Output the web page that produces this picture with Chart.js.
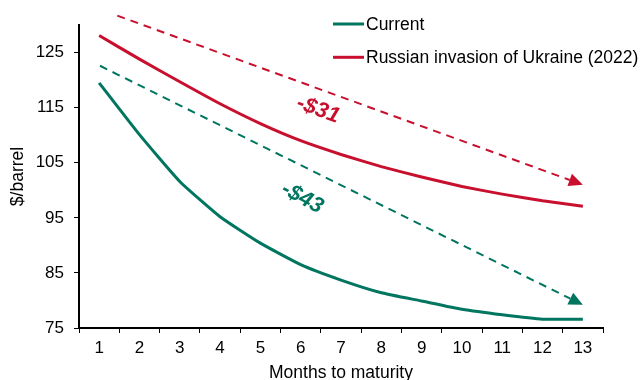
<!DOCTYPE html>
<html>
<head>
<meta charset="utf-8">
<script src="https://cdn.jsdelivr.net/npm/chart.js@4/dist/chart.umd.min.js"></script>
<style>
  html, body { margin: 0; padding: 0; background: #fff; }
</style>
</head>
<body>
<canvas id="c" width="643" height="380"></canvas>
<script>
// Months to maturity on the futures curve
const months = ['1', '2', '3', '4', '5', '6', '7', '8', '9', '10', '11', '12', '13'];
// Brent futures curves, $/barrel
const current = [119.5, 110.1, 101.6, 95.2, 90.4, 86.5, 83.7, 81.4, 79.9, 78.4, 77.4, 76.6, 76.6];
const invasion = [128.1, 123.8, 119.7, 115.7, 112.1, 109.0, 106.5, 104.3, 102.4, 100.7, 99.3, 98.1, 97.1];
const seriesNames = ['Current', 'Russian invasion of Ukraine (2022)'];
const yTicks = [75, 85, 95, 105, 115, 125];

// Backwardation arrows: [category index, $/barrel] for start and tip
const invasionArrow = [[0.45, 131.7], [12, 101.0]];
const currentArrow = [[0.02, 122.6], [12, 79.2]];
// Where the spread labels sit, same units
const invasionLabelAt = [5.43, 114.6];
const currentLabelAt = [5.04, 98.6];

const GREEN = '#00755f';
const RED = '#c8102e';
const FONT = "'Liberation Sans', Arial, sans-serif";

Chart.defaults.font.family = FONT;
Chart.defaults.color = '#000';

function spreadText(series) {
  return '-$' + Math.round(series[0] - series[series.length - 1]);
}

function drawArrow(ctx, x1, y1, x2, y2, color) {
  const ang = Math.atan2(y2 - y1, x2 - x1);
  const L = 14, W = 13;
  const bx = x2 - L * Math.cos(ang), by = y2 - L * Math.sin(ang);
  ctx.save();
  ctx.strokeStyle = color;
  ctx.lineWidth = 2;
  ctx.setLineDash([8, 6]);
  ctx.beginPath();
  ctx.moveTo(x1, y1);
  ctx.lineTo(bx, by);
  ctx.stroke();
  ctx.setLineDash([]);
  ctx.fillStyle = color;
  ctx.beginPath();
  ctx.moveTo(x2, y2);
  ctx.lineTo(bx + W / 2 * Math.sin(ang), by - W / 2 * Math.cos(ang));
  ctx.lineTo(bx - W / 2 * Math.sin(ang), by + W / 2 * Math.cos(ang));
  ctx.closePath();
  ctx.fill();
  ctx.restore();
}

function drawTag(ctx, x, y, deg, text, color) {
  ctx.save();
  ctx.translate(x, y);
  ctx.rotate(deg * Math.PI / 180);
  ctx.font = 'italic bold 22px ' + FONT;
  ctx.fillStyle = color;
  ctx.textAlign = 'center';
  ctx.textBaseline = 'middle';
  ctx.fillText(text, 0, 0);
  ctx.restore();
}

const annotations = {
  id: 'curveAnnotations',
  afterDatasetsDraw(chart) {
    const { ctx, scales: { x, y } } = chart;
    const px = p => [x.getPixelForValue(p[0]), y.getPixelForValue(p[1])];

    const [ra, rb] = [px(invasionArrow[0]), px(invasionArrow[1])];
    drawArrow(ctx, ra[0], ra[1], rb[0], rb[1], RED);
    const [ga, gb] = [px(currentArrow[0]), px(currentArrow[1])];
    drawArrow(ctx, ga[0], ga[1], gb[0], gb[1], GREEN);

    const rl = px(invasionLabelAt);
    drawTag(ctx, rl[0], rl[1], 20, spreadText(invasion), RED);
    const gl = px(currentLabelAt);
    drawTag(ctx, gl[0], gl[1], 28, spreadText(current), GREEN);

    // legend block, top right
    ctx.save();
    ctx.font = '17.5px ' + FONT;
    ctx.textBaseline = 'middle';
    chart.data.datasets.forEach((ds, i) => {
      const yy = 24 + i * 33.3;
      ctx.strokeStyle = ds.borderColor;
      ctx.lineWidth = 3;
      ctx.beginPath();
      ctx.moveTo(333, yy);
      ctx.lineTo(364, yy);
      ctx.stroke();
      ctx.fillStyle = '#000';
      ctx.fillText(ds.label, 366, yy + 1);
    });
    ctx.restore();
  }
};

new Chart(document.getElementById('c'), {
  type: 'line',
  data: {
    labels: months,
    datasets: [
      {
        label: seriesNames[0],
        data: current,
        borderColor: GREEN,
        backgroundColor: GREEN,
        borderWidth: 3,
        pointRadius: 0,
        tension: 0.15
      },
      {
        label: seriesNames[1],
        data: invasion,
        borderColor: RED,
        backgroundColor: RED,
        borderWidth: 3,
        pointRadius: 0,
        tension: 0.15
      }
    ]
  },
  options: {
    responsive: false,
    animation: false,
    devicePixelRatio: 1,
    layout: { padding: { top: 25, right: 40, left: 0, bottom: 0 } },
    plugins: {
      legend: { display: false },
      tooltip: { enabled: false }
    },
    scales: {
      x: {
        offset: true,
        grid: {
          display: true,
          offset: true,
          drawOnChartArea: false,
          drawTicks: true,
          tickLength: 5,
          color: '#000',
          lineWidth: 1
        },
        border: { display: true, color: '#000', width: 2 },
        ticks: {
          color: '#000',
          font: { size: 17 },
          padding: 5,
          maxRotation: 0,
          autoSkip: false
        },
        title: {
          display: true,
          text: 'Months to maturity',
          color: '#000',
          font: { size: 17.5 },
          padding: { top: 0, bottom: -4 }
        },
        afterFit(scale) { scale.height = 52; }
      },
      y: {
        min: 75,
        max: 130,
        afterBuildTicks(scale) { scale.ticks = yTicks.map(v => ({ value: v })); },
        grid: {
          display: true,
          drawOnChartArea: false,
          drawTicks: true,
          tickLength: 5,
          color: '#000',
          lineWidth: 1
        },
        border: { display: true, color: '#000', width: 2 },
        ticks: {
          color: '#000',
          font: { size: 17 },
          padding: 10
        },
        title: {
          display: true,
          text: '$/barrel',
          color: '#000',
          font: { size: 17.5 },
          padding: { top: 8, bottom: 0 }
        },
        afterFit(scale) { scale.width = 79; }
      }
    }
  },
  plugins: [annotations]
});
</script>
</body>
</html>
